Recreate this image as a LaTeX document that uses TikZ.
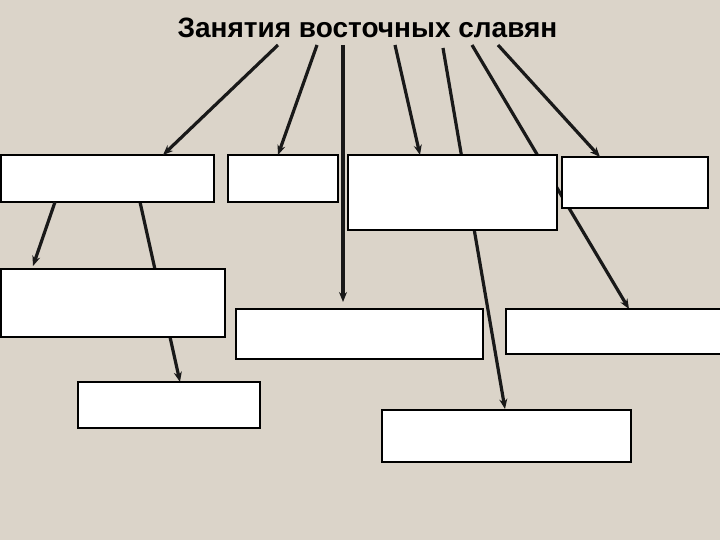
\documentclass[tikz,border=0pt]{standalone}
\usepackage{fontspec}
\setmainfont{Liberation Sans}
\usetikzlibrary{arrows.meta}
\definecolor{bg}{RGB}{219,212,201}
\begin{document}
\begin{tikzpicture}[x=1pt,y=-1pt,
  box/.style={draw=black, fill=white, line width=1.2pt, rectangle, inner sep=0pt, outer sep=0pt},
  conn/.style={line width=3.2pt, draw=black!90, -{Stealth[length=10pt,width=8pt]}}]
\fill[bg] (0,0) rectangle (720,540);
\useasboundingbox (0,0) rectangle (720,540);
\node[anchor=base, font=\bfseries\fontsize{28}{31}\selectfont] (title) at (367.5,38) {Занятия восточных славян};
% start points below title
\coordinate (s1) at (278,45);
\coordinate (s2) at (317,45);
\coordinate (s3) at (343,45);
\coordinate (s4) at (395,45);
\coordinate (s5) at (443,48);
\coordinate (s6) at (472,45);
\coordinate (s7) at (498,45);
% heads
\coordinate (h1) at (163,155);
\coordinate (h2) at (278,155);
\coordinate (h3) at (343,302);
\coordinate (h4) at (420,155);
\coordinate (h5) at (505,409);
\coordinate (h6) at (629,309);
\coordinate (h7) at (600,157);
\coordinate (t8) at (55,202);
\coordinate (h8) at (33,266);
\coordinate (t9) at (140,202);
\coordinate (h9) at (180,382);
% connectors that pass behind boxes
\draw[conn] (s5) -- (h5);
\draw[conn] (s6) -- (h6);
\draw[conn] (t9) -- (h9);
\draw[conn] (s3) -- (h3);
% boxes
\node[box, minimum width=213pt, minimum height=47pt] (b1) at (107.5,178.5) {};
\node[box, minimum width=110pt, minimum height=47pt] (b2) at (283,178.5) {};
\node[box, minimum width=209pt, minimum height=75pt] (b3) at (452.5,192.5) {};
\node[box, minimum width=146pt, minimum height=51pt] (b4) at (635,182.5) {};
\node[box, minimum width=224pt, minimum height=68pt] (b5) at (113,303) {};
\node[box, minimum width=247pt, minimum height=50pt] (b6) at (359.5,334) {};
\node[box, minimum width=216pt, minimum height=45pt] (b7) at (614,331.5) {};
\node[box, minimum width=182pt, minimum height=46pt] (b8) at (169,405) {};
\node[box, minimum width=249pt, minimum height=52pt] (b9) at (506.5,436) {};
% remaining connectors
\draw[conn] (s1) -- (h1);
\draw[conn] (s2) -- (h2);
\draw[conn] (s4) -- (h4);
\draw[conn] (s7) -- (h7);
\draw[conn] (t8) -- (h8);
\end{tikzpicture}
\end{document}
